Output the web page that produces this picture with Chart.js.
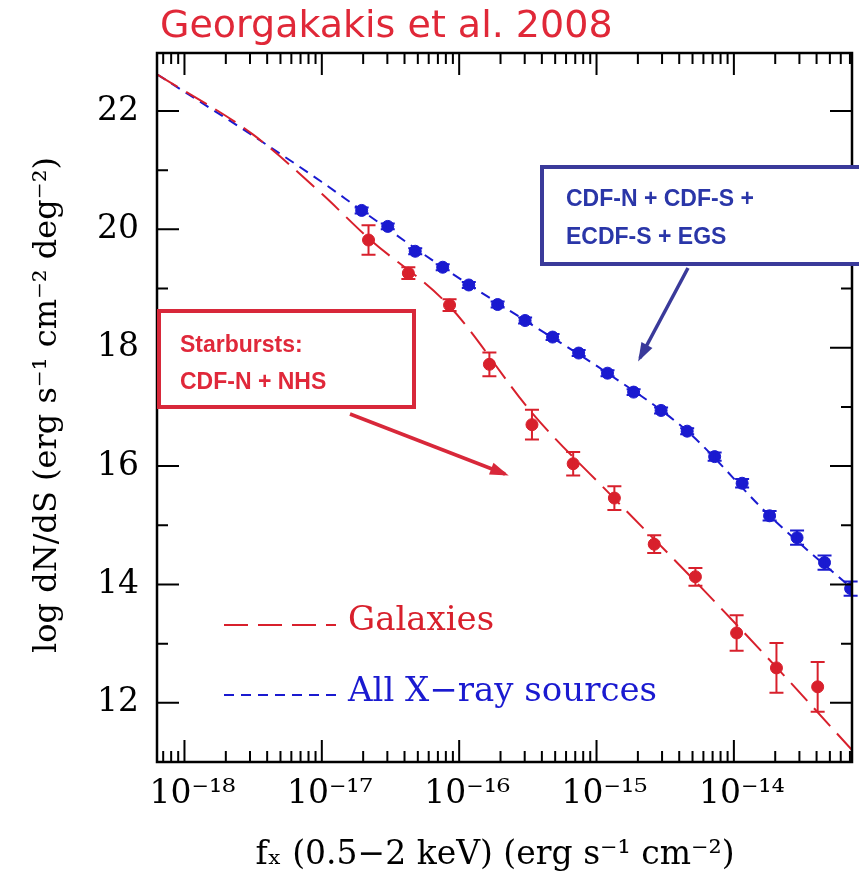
<!DOCTYPE html>
<html>
<head>
<meta charset="utf-8">
<script src="https://cdn.jsdelivr.net/npm/chart.js@4/dist/chart.umd.min.js"></script>
<style>
  html, body { margin: 0; padding: 0; background: #fff; }
  #wrap { width: 859px; height: 877px; position: relative; }
</style>
</head>
<body>
<div id="wrap"><canvas id="c" width="859" height="877"></canvas></div>
<script>
// log10 of flux for curves and points
const galaxyCurveX = [-18.2, -17.5, -17.0, -16.66, -16.07, -15.47, -14.87, -14.28, -13.69, -13.1];
const galaxyCurveY = [22.62, 21.6, 20.6, 19.85, 18.7, 16.9, 15.45, 14.05, 12.6, 11.1];
const allCurveX = [-18.2, -17.5, -17.0, -16.71, -16.12, -15.52, -14.92, -14.34, -13.74, -13.1];
const allCurveY = [22.62, 21.58, 20.8, 20.32, 19.36, 18.46, 17.57, 16.59, 15.16, 13.85];

const redX = [-16.66, -16.37, -16.07, -15.78, -15.47, -15.17, -14.87, -14.58, -14.28, -13.98, -13.69, -13.39];
const redY = [19.82, 19.26, 18.72, 17.72, 16.70, 16.04, 15.46, 14.68, 14.13, 13.18, 12.59, 12.27];
const redErr = [0.25, 0.1, 0.1, 0.2, 0.25, 0.2, 0.2, 0.15, 0.15, 0.3, 0.42, 0.42];

const blueX = [-16.71, -16.52, -16.32, -16.12, -15.93, -15.72, -15.52, -15.32, -15.13, -14.92, -14.73, -14.53, -14.34, -14.14, -13.94, -13.74, -13.54, -13.34, -13.15];
const blueY = [20.32, 20.05, 19.63, 19.36, 19.06, 18.73, 18.46, 18.18, 17.91, 17.57, 17.25, 16.94, 16.59, 16.16, 15.71, 15.16, 14.79, 14.37, 13.93];
const blueErr = [0.05, 0.05, 0.05, 0.05, 0.05, 0.05, 0.05, 0.05, 0.05, 0.05, 0.05, 0.05, 0.05, 0.07, 0.07, 0.08, 0.12, 0.12, 0.12];

const xMajor = [-18, -17, -16, -15, -14];
const xLabels = ['10\u207B\u00B9\u2078', '10\u207B\u00B9\u2077', '10\u207B\u00B9\u2076', '10\u207B\u00B9\u2075', '10\u207B\u00B9\u2074'];
const yMajor = [12, 14, 16, 18, 20, 22];
const yMinor = [11, 13, 15, 17, 19, 21];

const RED = '#d8202c';
const BLUE = '#1a1ad0';

const pts = (xs, ys) => xs.map((x, i) => ({ x: x, y: ys[i] }));

const axesPlugin = {
  id: 'axesPlugin',
  afterDatasetsDraw(chart) {
    const { ctx, chartArea: a, scales: { x, y } } = chart;
    ctx.save();
    // error bars
    const bars = (xs, ys, es, col) => {
      ctx.strokeStyle = col; ctx.lineWidth = 2;
      xs.forEach((v, i) => {
        const px = x.getPixelForValue(v);
        const t = y.getPixelForValue(ys[i] + es[i]);
        const b = y.getPixelForValue(ys[i] - es[i]);
        ctx.beginPath();
        ctx.moveTo(px, t); ctx.lineTo(px, b);
        ctx.moveTo(px - 7, t); ctx.lineTo(px + 7, t);
        ctx.moveTo(px - 7, b); ctx.lineTo(px + 7, b);
        ctx.stroke();
      });
    };
    bars(redX, redY, redErr, RED);
    bars(blueX, blueY, blueErr, BLUE);

    // frame
    ctx.strokeStyle = '#000'; ctx.lineWidth = 2.5;
    ctx.strokeRect(a.left, a.top, a.right - a.left, a.bottom - a.top);
    ctx.lineWidth = 2;
    ctx.beginPath();
    for (let d = -19; d <= -13; d++) {
      for (let m = 1; m <= 9; m++) {
        const v = d + Math.log10(m);
        if (v < x.min || v > x.max) continue;
        const px = x.getPixelForValue(v);
        const len = m === 1 ? 22 : 11;
        ctx.moveTo(px, a.bottom); ctx.lineTo(px, a.bottom - len);
        ctx.moveTo(px, a.top); ctx.lineTo(px, a.top + len);
      }
    }
    const yt = (v, len) => {
      const py = y.getPixelForValue(v);
      ctx.moveTo(a.left, py); ctx.lineTo(a.left + len, py);
      ctx.moveTo(a.right, py); ctx.lineTo(a.right - len, py);
    };
    yMajor.forEach(v => yt(v, 22));
    yMinor.forEach(v => yt(v, 11));
    ctx.stroke();

    // tick labels
    ctx.fillStyle = '#000';
    ctx.font = '33px "DejaVu Serif"';
    ctx.textAlign = 'center'; ctx.textBaseline = 'top';
    xMajor.forEach((v, i) => ctx.fillText(xLabels[i], x.getPixelForValue(v) + 8, a.bottom + 16));
    ctx.textAlign = 'right'; ctx.textBaseline = 'middle';
    yMajor.forEach(v => ctx.fillText(String(v), a.left - 18, y.getPixelForValue(v)));

    // axis titles
    ctx.textAlign = 'center'; ctx.textBaseline = 'middle';
    ctx.font = '33px "DejaVu Serif"';
    ctx.fillText('\u0066\u2093 (0.5\u22122 keV) (erg s\u207B\u00B9 cm\u207B\u00B2)', 495, 855);
    ctx.save();
    ctx.translate(48, 405); ctx.rotate(-Math.PI / 2);
    ctx.font = '32px "DejaVu Serif"';
    ctx.fillText('log dN/dS (erg s\u207B\u00B9 cm\u207B\u00B2 deg\u207B\u00B2)', 0, 0);
    ctx.restore();

    // title
    ctx.fillStyle = '#e02838';
    ctx.font = '38px "DejaVu Sans"';
    ctx.textAlign = 'left';
    ctx.fillText('Georgakakis et al. 2008', 160, 27);

    // legend
    ctx.lineWidth = 2;
    ctx.strokeStyle = RED; ctx.setLineDash([24, 10]);
    ctx.beginPath(); ctx.moveTo(224, 625); ctx.lineTo(336, 625); ctx.stroke();
    ctx.strokeStyle = BLUE; ctx.setLineDash([10, 7]);
    ctx.beginPath(); ctx.moveTo(224, 695); ctx.lineTo(336, 695); ctx.stroke();
    ctx.setLineDash([]);
    ctx.font = '34px "DejaVu Serif"';
    ctx.fillStyle = RED; ctx.fillText('Galaxies', 348, 621);
    ctx.fillStyle = BLUE; ctx.fillText('All X\u2212ray sources', 348, 692);

    // annotation boxes
    ctx.lineWidth = 4;
    ctx.fillStyle = '#fff';
    ctx.strokeStyle = '#3a3a9a';
    ctx.fillRect(542, 167, 330, 97); ctx.strokeRect(542, 167, 330, 97);
    ctx.strokeStyle = '#d8283a';
    ctx.fillRect(159, 311, 255, 96); ctx.strokeRect(159, 311, 255, 96);
    ctx.font = 'bold 23px "Liberation Sans"';
    ctx.fillStyle = '#2a36a8';
    ctx.fillText('CDF-N + CDF-S +', 566, 200);
    ctx.fillText('ECDF-S + EGS', 566, 238);
    ctx.fillStyle = '#e0283a';
    ctx.fillText('Starbursts:', 180, 346);
    ctx.fillText('CDF-N + NHS', 180, 383);

    const arrow = (x1, y1, x2, y2, col) => {
      ctx.strokeStyle = col; ctx.fillStyle = col; ctx.lineWidth = 3.5;
      ctx.beginPath(); ctx.moveTo(x1, y1); ctx.lineTo(x2, y2); ctx.stroke();
      const ang = Math.atan2(y2 - y1, x2 - x1);
      ctx.beginPath();
      ctx.moveTo(x2 + 4 * Math.cos(ang), y2 + 4 * Math.sin(ang));
      ctx.lineTo(x2 - 16 * Math.cos(ang - 0.4), y2 - 16 * Math.sin(ang - 0.4));
      ctx.lineTo(x2 - 16 * Math.cos(ang + 0.4), y2 - 16 * Math.sin(ang + 0.4));
      ctx.closePath(); ctx.fill();
    };
    arrow(688, 268, 640, 358, '#3a3a9a');
    arrow(350, 414, 505, 474, '#d8283a');
    ctx.restore();
  }
};

new Chart(document.getElementById('c'), {
  type: 'scatter',
  data: {
    datasets: [
      { type: 'line', data: pts(galaxyCurveX, galaxyCurveY), borderColor: RED, borderWidth: 2,
        borderDash: [24, 10], pointRadius: 0, cubicInterpolationMode: 'monotone', fill: false },
      { type: 'line', data: pts(allCurveX, allCurveY), borderColor: BLUE, borderWidth: 2,
        borderDash: [10, 7], pointRadius: 0, cubicInterpolationMode: 'monotone', fill: false },
      { data: pts(redX, redY), backgroundColor: RED, borderColor: RED, pointRadius: 6 },
      { data: pts(blueX, blueY), backgroundColor: BLUE, borderColor: BLUE, pointRadius: 6 }
    ]
  },
  options: {
    responsive: false,
    animation: false,
    layout: { padding: { left: 157, top: 53, right: 0, bottom: 115 } },
    plugins: { legend: { display: false }, tooltip: { enabled: false } },
    scales: {
      x: { type: 'linear', min: -18.2, max: -13.14, display: false },
      y: { type: 'linear', min: 11.0, max: 22.98, display: false }
    }
  },
  plugins: [axesPlugin]
});
</script>
</body>
</html>
